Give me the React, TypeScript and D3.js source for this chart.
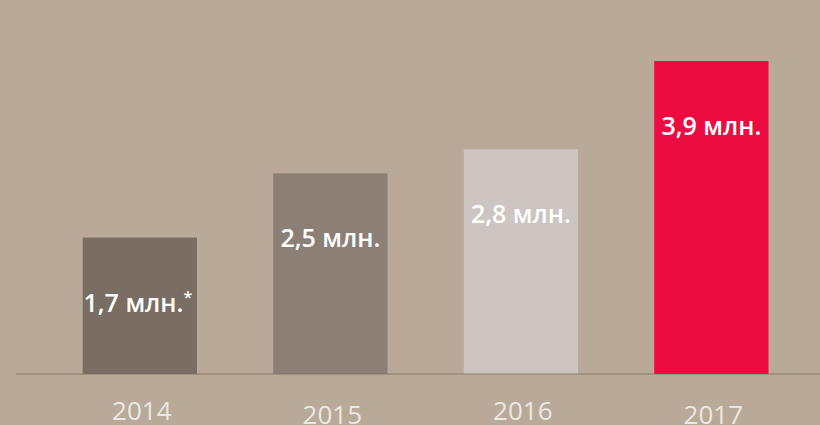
import React from "react";
import * as d3 from "d3";

const years = ["2014", "2015", "2016", "2017"];
const values = [1.7, 2.5, 2.8, 3.9];
const valueLabels = ["1,7 млн.", "2,5 млн.", "2,8 млн.", "3,9 млн."];
const footnotes = ["*", "", "", ""];
const barColors = ["#7a6d63", "#8c7f76", "#cdc5c2", "#ec0c41"];

const width = 820;
const height = 425;
const baseY = 374;

export default function App() {
  const x = d3.scaleBand().domain(years).range([44.6, 806.6]).paddingInner(0.4).paddingOuter(0.2);
  const y = d3.scaleLinear().domain([0, 3.9]).range([baseY, 61]);

  return (
    <svg
      width={width}
      height={height}
      style={{ position: "absolute", left: 0, top: 0, display: "block" }}
      fontFamily="'Open Sans', sans-serif"
    >
      <rect width={width} height={height} fill="#b8a998" />
      {years.map((yr, i) => (
        <rect
          key={yr}
          x={x(yr)}
          y={y(values[i])}
          width={x.bandwidth()}
          height={baseY - y(values[i])}
          fill={barColors[i]}
        />
      ))}
      <line x1={16} x2={width} y1={baseY} y2={baseY} stroke="rgba(120,100,80,0.35)" strokeWidth={2} />
      {years.map((yr, i) => (
        <text
          key={"v" + yr}
          x={x(yr)! + x.bandwidth() / 2 - (i === 0 ? 2 : 0)}
          y={y(values[i]) + 74}
          textAnchor="middle"
          fill="#ffffff"
          fontSize={25}
          fontWeight={600}
        >
          {valueLabels[i]}
          {footnotes[i] && (
            <tspan fontSize={16} dy={-9}>
              {footnotes[i]}
            </tspan>
          )}
        </text>
      ))}
      {years.map((yr, i) => (
        <text
          key={"t" + yr}
          x={x(yr)! + x.bandwidth() / 2 + 2}
          y={420 + (i % 2) * 4}
          textAnchor="middle"
          fill="#ece8e3"
          fontSize={26}
          fontWeight={500}
        >
          {yr}
        </text>
      ))}
    </svg>
  );
}
